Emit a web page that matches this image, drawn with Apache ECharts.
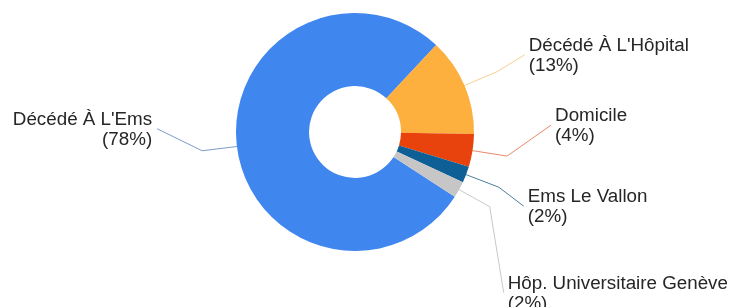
<!DOCTYPE html>
<html>
<head>
<meta charset="utf-8">
<script src="https://cdn.jsdelivr.net/npm/echarts@6/dist/echarts.min.js"></script>
<style>
  html, body { margin: 0; padding: 0; background: #ffffff; }
  #chart { width: 729px; height: 307px; }
</style>
</head>
<body>
<div id="chart"></div>
<script>
// ---- data ----
const categories = ["Décédé À L'Ems", "Décédé À L'Hôpital", "Domicile", "Ems Le Vallon", "Hôp. Universitaire Genève"];
const counts = [35, 6, 2, 1, 1];

// ---- styles ----
const sliceColors = ['#4086ef', '#fdb03e', '#e8430c', '#0d5f96', '#c6c6c6'];
const lineColors = ['#7f9cc8', '#f6cf92', '#e98a6a', '#4c7f9e', '#c9c9c9'];
// label offset from the leader-line bend point (style only)
const labelShift = [[-50, -21], [32, -16], [48, -30], [29, 20], [18, 87]];

const total = counts.reduce((a, b) => a + b, 0);

const chart = echarts.init(document.getElementById('chart'), null, { renderer: 'canvas' });

const option = {
  backgroundColor: '#ffffff',
  animation: false,
  series: [{
    type: 'pie',
    center: [355, 132],
    radius: [46, 119],
    startAngle: -33,
    clockwise: true,
    avoidLabelOverlap: false,
    itemStyle: { borderWidth: 0 },
    label: {
      show: true,
      position: 'outside',
      alignTo: 'none',
      fontFamily: '"Liberation Sans", Arial, sans-serif',
      fontSize: 18.8,
      lineHeight: 20,
      color: '#262626',
      formatter: (p) => p.name + '\n(' + Math.round(p.value / total * 100) + '%)'
    },
    labelLine: {
      show: true,
      length: 35,
      length2: 0,
      smooth: false,
      lineStyle: { width: 1 }
    },
    labelLayout: function (params) {
      const i = params.dataIndex;
      const pts = params.labelLinePoints;
      if (!pts) return {};
      const p0 = pts[0], p1 = pts[1];
      const isLeft = p1[0] < p0[0];
      const x = p1[0] + labelShift[i][0];
      const y = p1[1] + labelShift[i][1];
      const anchor = isLeft ? [x + 5, y - 1] : [x - 4, y - 1];
      return {
        x: x,
        y: y,
        align: isLeft ? 'right' : 'left',
        verticalAlign: 'middle',
        labelLinePoints: [p0, p1, anchor]
      };
    },
    data: categories.map((name, i) => ({
      name: name,
      value: counts[i],
      itemStyle: { color: sliceColors[i] },
      labelLine: { lineStyle: { color: lineColors[i] } }
    }))
  }]
};

chart.setOption(option);
</script>
</body>
</html>
